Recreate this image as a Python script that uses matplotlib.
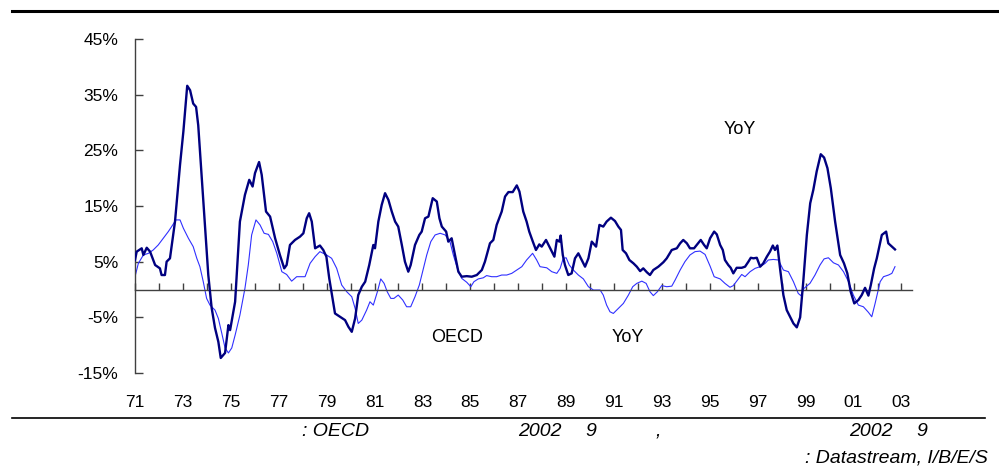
import matplotlib
matplotlib.use("Agg")
import matplotlib.pyplot as plt
from matplotlib.ticker import MultipleLocator, FixedLocator

plt.rcParams['font.family'] = ['Liberation Sans', 'DejaVu Sans']

# Dark series (thick navy line): decimal years and YoY %
dark_years = [1971.00, 1971.07, 1971.28, 1971.35, 1971.49, 1971.63, 1971.84, 1972.04, 1972.11, 1972.25,
              1972.32, 1972.46, 1972.67, 1972.88, 1973.02, 1973.18, 1973.30, 1973.43, 1973.55, 1973.64,
              1973.78, 1973.92, 1974.06, 1974.20, 1974.34, 1974.48, 1974.58, 1974.76, 1974.90, 1974.97,
              1975.18, 1975.38, 1975.59, 1975.77, 1975.91, 1976.01, 1976.18, 1976.29, 1976.47, 1976.64,
              1976.85, 1977.05, 1977.23, 1977.33, 1977.47, 1977.68, 1977.89, 1978.03, 1978.17, 1978.27,
              1978.38, 1978.52, 1978.72, 1978.86, 1978.99, 1979.11, 1979.35, 1979.56, 1979.77, 1979.91,
              1980.05, 1980.19, 1980.32, 1980.47, 1980.61, 1980.78, 1980.95, 1981.02, 1981.16, 1981.30,
              1981.44, 1981.58, 1981.72, 1981.86, 1981.99, 1982.14, 1982.27, 1982.41, 1982.51, 1982.69,
              1982.87, 1982.97, 1983.11, 1983.25, 1983.43, 1983.60, 1983.71, 1983.81, 1983.99, 1984.08,
              1984.22, 1984.36, 1984.50, 1984.64, 1984.85, 1985.06, 1985.27, 1985.48, 1985.61, 1985.82,
              1985.96, 1986.10, 1986.31, 1986.45, 1986.59, 1986.77, 1986.94, 1987.05, 1987.21, 1987.35,
              1987.46, 1987.61, 1987.74, 1987.88, 1987.98, 1988.16, 1988.30, 1988.40, 1988.51, 1988.61,
              1988.72, 1988.77, 1988.86, 1988.95, 1989.09, 1989.23, 1989.37, 1989.51, 1989.65, 1989.79,
              1989.93, 1990.07, 1990.25, 1990.39, 1990.55, 1990.69, 1990.87, 1991.04, 1991.18, 1991.29,
              1991.36, 1991.50, 1991.64, 1991.81, 1991.95, 1992.09, 1992.22, 1992.37, 1992.50, 1992.64,
              1992.85, 1993.06, 1993.20, 1993.41, 1993.62, 1993.76, 1993.89, 1994.04, 1994.17, 1994.34,
              1994.45, 1994.62, 1994.76, 1994.87, 1995.01, 1995.18, 1995.29, 1995.43, 1995.54, 1995.63,
              1995.77, 1995.87, 1995.98, 1996.12, 1996.33, 1996.47, 1996.61, 1996.71, 1996.82, 1996.96,
              1997.10, 1997.23, 1997.38, 1997.51, 1997.63, 1997.72, 1997.82, 1997.93, 1998.07, 1998.21,
              1998.35, 1998.49, 1998.63, 1998.77, 1998.90, 1999.05, 1999.19, 1999.32, 1999.46, 1999.63,
              1999.77, 1999.91, 2000.05, 2000.23, 2000.44, 2000.60, 2000.74, 2000.88, 2001.03, 2001.20,
              2001.34, 2001.48, 2001.62, 2001.72, 2001.86, 2001.97, 2002.06, 2002.18, 2002.36, 2002.45,
              2002.60, 2002.73]
dark_vals = [5.3, 6.8, 7.4, 6.2, 7.5, 6.8, 4.4, 3.8, 2.6, 2.6,
             5.0, 5.6, 12.2, 22.4, 28.4, 36.6, 35.8, 33.4, 32.8, 29.5,
             20.6, 11.6, 2.6, -3.3, -6.9, -9.4, -12.3, -11.4, -6.4, -7.3,
             -2.2, 12.2, 17.0, 19.7, 18.5, 20.9, 22.9, 20.6, 14.0, 13.1,
             9.2, 6.2, 3.8, 4.4, 8.0, 8.9, 9.5, 10.1, 12.8, 13.7,
             12.2, 7.4, 7.9, 7.1, 5.9, 2.0, -4.3, -4.9, -5.5, -6.7,
             -7.6, -5.2, -1.0, 0.5, 1.4, 4.4, 8.0, 7.4, 12.2, 15.2,
             17.3, 16.1, 14.0, 12.2, 11.3, 8.0, 5.0, 3.2, 4.4, 8.0,
             9.8, 10.4, 12.8, 13.1, 16.4, 15.8, 12.8, 11.3, 10.4, 8.6,
             9.2, 6.2, 3.2, 2.3, 2.4, 2.3, 2.6, 3.5, 5.0, 8.3,
             8.9, 11.6, 14.0, 16.7, 17.5, 17.5, 18.7, 17.6, 14.0, 12.2,
             10.4, 8.6, 7.1, 8.1, 7.7, 8.9, 7.7, 6.8, 5.9, 8.9,
             8.6, 9.7, 6.2, 4.4, 2.6, 2.9, 5.6, 6.5, 5.3, 4.1,
             5.6, 8.6, 7.7, 11.6, 11.3, 12.2, 12.9, 12.3, 11.3, 10.7,
             7.1, 6.5, 5.3, 4.7, 4.1, 3.3, 3.8, 3.1, 2.6, 3.5,
             4.1, 4.9, 5.6, 7.1, 7.4, 8.3, 8.9, 8.3, 7.4, 7.4,
             8.0, 8.9, 8.0, 7.4, 9.2, 10.4, 9.9, 8.0, 7.1, 5.3,
             4.4, 3.9, 2.9, 3.9, 3.9, 4.1, 5.0, 5.7, 5.6, 5.7,
             4.1, 4.7, 5.9, 6.8, 7.9, 7.1, 7.9, 3.8, -1.0, -3.7,
             -4.9, -6.1, -6.8, -5.0, 1.4, 9.8, 15.5, 17.9, 21.2, 24.3,
             23.7, 21.8, 18.2, 12.2, 6.2, 4.7, 2.9, -0.4, -2.5, -1.9,
             -1.0, 0.3, -1.1, 0.8, 3.8, 5.6, 7.4, 9.8, 10.4, 8.3,
             7.7, 7.2]

# Light series (thin blue line): decimal years and YoY %
light_years = [1971.00, 1971.14, 1971.35, 1971.56, 1971.76, 1971.97, 1972.18, 1972.39, 1972.53, 1972.71,
               1972.88, 1973.02, 1973.23, 1973.43, 1973.58, 1973.71, 1973.85, 1973.99, 1974.13, 1974.34,
               1974.48, 1974.62, 1974.76, 1974.90, 1975.04, 1975.18, 1975.38, 1975.59, 1975.73, 1975.87,
               1976.05, 1976.22, 1976.39, 1976.57, 1976.75, 1976.92, 1977.13, 1977.33, 1977.54, 1977.75,
               1978.10, 1978.31, 1978.52, 1978.72, 1979.00, 1979.21, 1979.42, 1979.63, 1979.84, 1980.05,
               1980.19, 1980.32, 1980.47, 1980.67, 1980.81, 1980.95, 1981.12, 1981.26, 1981.40, 1981.53,
               1981.68, 1981.81, 1981.99, 1982.18, 1982.34, 1982.51, 1982.69, 1982.87, 1983.04, 1983.18,
               1983.35, 1983.53, 1983.74, 1983.95, 1984.15, 1984.29, 1984.46, 1984.64, 1984.85, 1985.02,
               1985.15, 1985.33, 1985.54, 1985.68, 1985.89, 1986.10, 1986.31, 1986.52, 1986.73, 1986.94,
               1987.15, 1987.35, 1987.60, 1987.77, 1987.91, 1988.19, 1988.40, 1988.61, 1988.75, 1988.88,
               1989.00, 1989.13, 1989.30, 1989.51, 1989.72, 1989.93, 1990.14, 1990.42, 1990.55, 1990.69,
               1990.83, 1990.97, 1991.18, 1991.39, 1991.60, 1991.78, 1991.95, 1992.16, 1992.34, 1992.50,
               1992.64, 1992.81, 1992.99, 1993.20, 1993.41, 1993.55, 1993.76, 1993.96, 1994.17, 1994.38,
               1994.59, 1994.80, 1995.01, 1995.18, 1995.43, 1995.63, 1995.84, 1995.98, 1996.12, 1996.33,
               1996.47, 1996.68, 1996.89, 1997.10, 1997.31, 1997.44, 1997.65, 1997.86, 1998.07, 1998.28,
               1998.49, 1998.69, 1998.80, 1998.93, 1999.18, 1999.39, 1999.60, 1999.77, 1999.95, 2000.16,
               2000.37, 2000.58, 2000.79, 2000.99, 2001.20, 2001.41, 2001.62, 2001.76, 2001.90, 2002.11,
               2002.25, 2002.46, 2002.60, 2002.73]
light_vals = [2.3, 4.7, 6.2, 6.5, 7.1, 8.0, 9.2, 10.4, 11.3, 12.5,
              12.5, 11.0, 9.2, 7.7, 5.6, 4.1, 1.4, -1.6, -2.8, -3.7,
              -5.2, -7.8, -10.5, -11.4, -10.5, -8.2, -4.6, 0.2, 4.4, 9.8,
              12.5, 11.6, 10.1, 9.9, 8.6, 6.5, 3.2, 2.7, 1.5, 2.3,
              2.3, 4.7, 5.9, 6.8, 6.2, 5.6, 3.8, 0.8, -0.4, -1.3,
              -3.4, -6.1, -5.5, -3.7, -2.2, -2.8, -0.4, 1.9, 1.1, -0.4,
              -1.6, -1.6, -1.0, -1.9, -3.1, -3.1, -1.3, 0.8, 3.8, 6.2,
              8.6, 9.8, 10.1, 9.8, 8.6, 6.2, 3.8, 2.0, 1.3, 0.5,
              1.4, 1.9, 2.1, 2.5, 2.3, 2.3, 2.6, 2.6, 2.9, 3.5,
              4.1, 5.3, 6.5, 5.3, 4.1, 3.9, 3.2, 2.9, 3.8, 5.6,
              5.7, 4.4, 3.5, 2.6, 1.9, 0.5, -0.1, -0.1, -1.0, -2.8,
              -4.0, -4.3, -3.4, -2.5, -1.0, 0.5, 1.1, 1.5, 1.1, -0.4,
              -1.1, -0.4, 0.7, 0.5, 0.6, 1.7, 3.5, 5.0, 6.2, 6.8,
              6.9, 6.3, 4.2, 2.3, 1.9, 1.1, 0.4, 0.7, 1.5, 2.7,
              2.3, 3.2, 3.8, 4.1, 4.7, 5.3, 5.4, 5.3, 3.5, 3.2,
              1.4, -0.7, -1.1, 0.2, 1.1, 2.6, 4.4, 5.5, 5.7, 4.8,
              4.4, 3.2, 1.4, -1.0, -2.8, -3.1, -4.1, -4.9, -2.5, 1.4,
              2.3, 2.6, 2.9, 4.1]

y_ticks = [-15, -5, 5, 15, 25, 35, 45]
y_tick_labels = ['-15%', '-5%', '5%', '15%', '25%', '35%', '45%']
x_label_years = list(range(1971, 2004, 2))
x_tick_labels = ['71', '73', '75', '77', '79', '81', '83', '85', '87', '89',
                 '91', '93', '95', '97', '99', '01', '03']

fig = plt.figure(figsize=(9.99, 4.68), dpi=100)
ax = fig.add_axes([135 / 999, 1 - 373 / 468, (912 - 135) / 999, (373 - 39) / 468])

ax.plot(light_years, light_vals, color='#3030FF', lw=0.8, zorder=2)
ax.plot(dark_years, dark_vals, color='#000080', lw=1.7, zorder=3)

ax.set_xlim(1971, 2003.44)
ax.set_ylim(-15, 45)

for s in ['top', 'right']:
    ax.spines[s].set_visible(False)
ax.spines['left'].set_color('#404040')
ax.spines['left'].set_linewidth(1.0)
ax.spines['bottom'].set_position(('data', 0))
ax.spines['bottom'].set_color('#404040')
ax.spines['bottom'].set_linewidth(1.0)

ax.set_yticks(y_ticks)
ax.set_yticklabels(y_tick_labels)
ax.tick_params(axis='y', direction='in', length=6, width=1, color='#404040',
               labelsize=12.5, pad=12)

ax.xaxis.set_major_locator(FixedLocator(x_label_years))
ax.set_xticklabels(x_tick_labels)
ax.xaxis.set_minor_locator(MultipleLocator(1))
ax.tick_params(axis='x', which='both', direction='in', length=5, width=1, color='#404040')
ax.tick_params(axis='x', which='major', labelsize=12.5, pad=76)

# annotations
fig.text(740 / 999, 1 - 130 / 468, 'YoY', ha='center', va='center', fontsize=13)
fig.text(457 / 999, 1 - 337 / 468, 'OECD', ha='center', va='center', fontsize=13)
fig.text(628 / 999, 1 - 337 / 468, 'YoY', ha='center', va='center', fontsize=13)

# rules
fig.add_artist(plt.Line2D([12 / 999, 998 / 999], [1 - 11 / 468, 1 - 11 / 468], color='black', lw=2.2))
fig.add_artist(plt.Line2D([12 / 999, 985 / 999], [1 - 418 / 468, 1 - 418 / 468], color='black', lw=1.2))

# footer
fs = 14
fig.text(302 / 999, 1 - 432 / 468, ': OECD', ha='left', va='center', fontsize=fs, style='italic')
fig.text(540 / 999, 1 - 432 / 468, '2002', ha='center', va='center', fontsize=fs, style='italic')
fig.text(591 / 999, 1 - 432 / 468, '9', ha='center', va='center', fontsize=fs, style='italic')
fig.text(658 / 999, 1 - 432 / 468, ',', ha='center', va='center', fontsize=fs, style='italic')
fig.text(871 / 999, 1 - 432 / 468, '2002', ha='center', va='center', fontsize=fs, style='italic')
fig.text(922 / 999, 1 - 432 / 468, '9', ha='center', va='center', fontsize=fs, style='italic')
fig.text(988 / 999, 1 - 458 / 468, ': Datastream, I/B/E/S', ha='right', va='center', fontsize=fs, style='italic')

fig.savefig('out.png', dpi=100)
